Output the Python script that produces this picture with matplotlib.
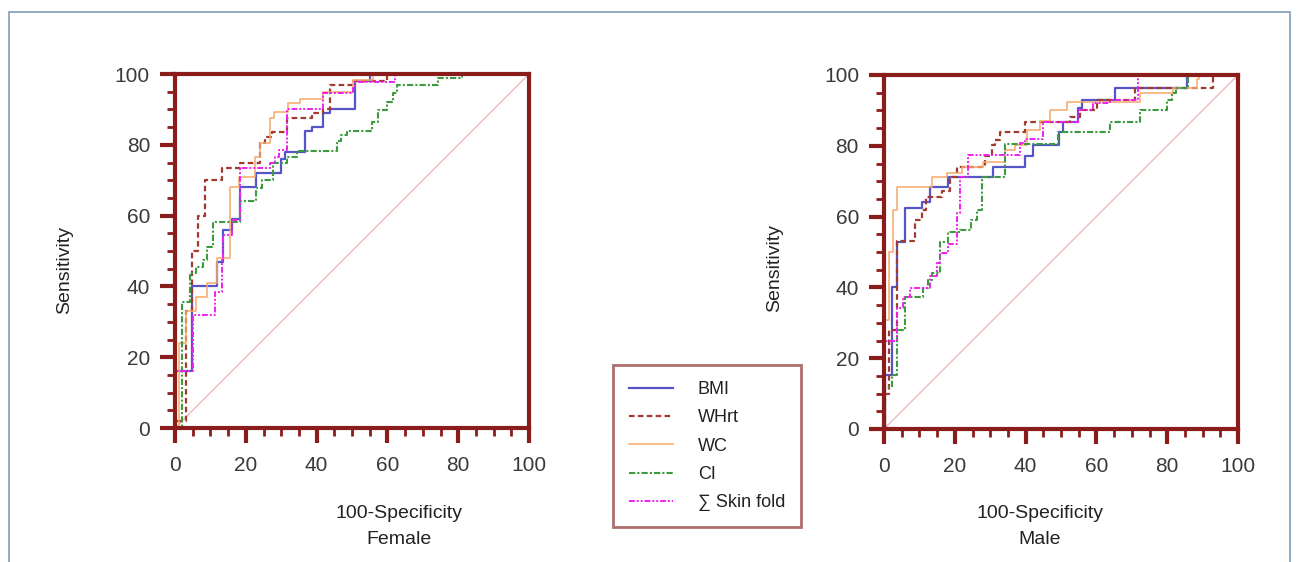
import matplotlib
matplotlib.use("Agg")
import matplotlib.pyplot as plt
from matplotlib.patches import Rectangle
from matplotlib.lines import Line2D
from matplotlib.ticker import MultipleLocator

# ---------------- data (100-Specificity, Sensitivity) ----------------
series_names = ["BMI", "WHrt", "WC", "CI", "\u2211 Skin fold"]

# Female
f_bmi_x = [0, 0, 4.7, 11.8, 13.5, 16, 18.4, 23, 30, 31, 36.7, 38.6, 41.9, 43.8, 50.8, 55, 100]
f_bmi_y = [0, 16, 40, 47, 56, 59, 68, 72, 76, 78, 84, 85, 89, 90, 98, 100, 100]
f_whr_x = [0, 0, 3, 4.7, 6.6, 8.5, 13.2, 18.4, 23.9, 25.4, 27.3, 31.5, 38.6, 41.9, 43.8, 50, 60, 100]
f_whr_y = [0, 2, 33, 50, 60, 70, 73.5, 75, 80.5, 82.3, 83.7, 87.5, 89, 90, 97, 98, 100, 100]
f_wc_x = [0, 1, 3, 6, 9, 12, 15.5, 18, 22.6, 24, 26.8, 28, 32, 35.3, 41.9, 50.4, 56, 100]
f_wc_y = [0, 24, 33, 37, 41, 48, 68, 71, 76.6, 80.4, 87.5, 89.4, 91.7, 93, 95, 98.3, 100, 100]
f_ci_x = [0, 1.9, 4.2, 6, 8, 8.9, 10.8, 18.4, 23, 24.5, 27.8, 31.5, 34.4, 45.7, 47, 48.5, 55.6,
          57.4, 59.8, 61.7, 62.6, 74.4, 81, 100]
f_ci_y = [0, 35.7, 43.7, 45.6, 47.5, 51, 58.3, 64, 67.7, 70, 74.8, 76.6, 78.3, 81, 82.8, 84, 86.5,
          89.8, 92.2, 94.5, 97, 98.8, 100, 100]
f_sf_x = [0, 0, 5.2, 11.3, 13.2, 13.7, 16, 18.4, 26.8, 28.2, 29.5, 31.5, 41.9, 50.4, 50.8, 62.1, 100]
f_sf_y = [0, 16, 32, 38.5, 47.5, 54.5, 58.8, 73.4, 74.8, 76.6, 78.5, 90, 94.5, 96, 97.8, 100, 100]

# Male
m_bmi_x = [0, 0.3, 2.2, 3.6, 5.9, 10.6, 13, 18.2, 30.9, 39.8, 42.2, 49.3, 50.7, 54.9, 55.8, 65.3, 85.5, 100]
m_bmi_y = [0, 15.3, 40.2, 52.9, 62.3, 64.2, 68.4, 71.3, 74.1, 77, 80.2, 84, 86.8, 90.6, 92.9, 96.2, 100, 100]
m_whr_x = [0, 0.3, 1.5, 3.6, 8.8, 10.6, 12, 16.3, 18.6, 20.5, 28.5, 30.4, 31.4, 32.8, 39.8, 52.5,
           55.5, 60.1, 70.9, 93, 100]
m_whr_y = [0, 10, 28, 53, 59, 62, 65.6, 67.1, 71.3, 74.1, 77, 80.2, 81.6, 84, 86.8, 88,
           90.1, 92.9, 96.2, 100, 100]
m_wc_x = [0, 0.3, 1.5, 2.5, 3.8, 13.5, 17.7, 22, 28, 34.2, 37, 40.3, 44, 46.9, 51.6, 72.3, 81.7, 88.3, 89, 100]
m_wc_y = [0, 30.8, 50, 62, 68.4, 71.3, 72.2, 74.1, 75.4, 78.8, 80.2, 84.5, 87, 90.1, 92.5, 94.8, 96.2, 98.8, 100, 100]
m_ci_x = [0, 0.3, 2.2, 3.6, 5.9, 11.1, 12.5, 13.5, 15.8, 18.2, 21.5, 24.5, 26.2, 27.6, 34.2, 49.2,
          63.8, 72.3, 79.9, 81.3, 82.5, 86, 100]
m_ci_y = [0, 12, 15.3, 28, 37.4, 39.7, 42, 44, 52.9, 55.7, 56.2, 59, 62, 71.3, 80.5, 84,
          86.8, 90.1, 92.9, 94.8, 96.2, 100, 100]
m_sf_x = [0, 0.3, 3.6, 5.5, 7.3, 13, 14.9, 15.8, 18.2, 20.5, 21.5, 23.8, 38.4, 39.8, 45, 54.9, 59.1, 63.8, 71.8, 100]
m_sf_y = [0, 25, 34.1, 37.4, 39.7, 43.2, 46.8, 49.6, 52.4, 60.9, 71.3, 77.4, 80.8, 82, 86.8, 90.1, 92, 92.9, 100, 100]

ticks = [0, 20, 40, 60, 80, 100]
panel_titles = ["Female", "Male"]

# ---------------- styles ----------------
AXC = "#8B1C1C"
TXT = "#3a3a3a"
styles = [
    dict(color="#5555C8", lw=1.6, ls="-"),
    dict(color="#A33A30", lw=1.6, ls=(0, (2.5, 1.5))),
    dict(color="#F7A868", lw=1.1, ls="-"),
    dict(color="#3E9A3E", lw=1.5, ls=(0, (3, 1, 1, 1))),
    dict(color="#F020F0", lw=1.4, ls=(0, (3, 1, 1, 1, 1, 1))),
]

W, H = 1299, 562
fig = plt.figure(figsize=(W / 100, H / 100), dpi=100)
plt.rcParams['font.family'] = ['Liberation Sans', 'DejaVu Sans']

# outer frame
fig.patches.append(Rectangle((9 / W, -0.05), (1290 - 9) / W, 1.05 - 12 / H,
                             transform=fig.transFigure, fill=False,
                             edgecolor="#7F9DB9", lw=1.2))

ax_l = fig.add_axes([175 / W, 1 - 428 / H, 354 / W, 354 / H])
ax_r = fig.add_axes([884 / W, 1 - 429 / H, 354 / W, 354 / H])

data = [
    [(f_bmi_x, f_bmi_y), (f_whr_x, f_whr_y), (f_wc_x, f_wc_y), (f_ci_x, f_ci_y), (f_sf_x, f_sf_y)],
    [(m_bmi_x, m_bmi_y), (m_whr_x, m_whr_y), (m_wc_x, m_wc_y), (m_ci_x, m_ci_y), (m_sf_x, m_sf_y)],
]

for ax, curves in zip([ax_l, ax_r], data):
    ax.plot([0, 100], [0, 100], color="#EDB8B8", lw=1.0, zorder=1)
    for (xs, ys), st in zip(curves, styles):
        ax.plot(xs, ys, drawstyle="steps-post", zorder=2, clip_on=False, **st)
    ax.set_xlim(0, 100)
    ax.set_ylim(0, 100)
    ax.set_xticks(ticks)
    ax.set_yticks(ticks)
    ax.xaxis.set_minor_locator(MultipleLocator(5))
    ax.yaxis.set_minor_locator(MultipleLocator(5))
    for s in ax.spines.values():
        s.set_color(AXC)
        s.set_linewidth(3)
        s.set_zorder(3)
    ax.tick_params(which="major", direction="out", length=11, width=3, color=AXC,
                   labelsize=15, labelcolor=TXT)
    ax.tick_params(axis="y", which="major", pad=7)
    ax.tick_params(axis="x", which="major", pad=9)
    ax.tick_params(which="minor", direction="out", length=6, width=2, color=AXC)

# axis labels as figure text
lab_fs = 14
fig.text(65 / W, 1 - 270 / H, "Sensitivity", rotation=90, ha="center", va="center",
         fontsize=lab_fs, color="#222222")
fig.text(775 / W, 1 - 268 / H, "Sensitivity", rotation=90, ha="center", va="center",
         fontsize=lab_fs, color="#222222")
fig.text(399 / W, 1 - 513 / H, "100-Specificity", ha="center", va="center",
         fontsize=lab_fs, color="#222222")
fig.text(399 / W, 1 - 540 / H, panel_titles[0], ha="center", va="center",
         fontsize=lab_fs, color="#222222")
fig.text(1040 / W, 1 - 513 / H, "100-Specificity", ha="center", va="center",
         fontsize=lab_fs, color="#222222")
fig.text(1040 / W, 1 - 540 / H, panel_titles[1], ha="center", va="center",
         fontsize=lab_fs, color="#222222")

# legend
handles = [Line2D([], [], **st) for st in styles]
leg = fig.legend(handles, series_names, loc="upper left",
                 bbox_to_anchor=(613 / W, 1 - 365 / H), frameon=True, fancybox=False,
                 fontsize=13, handlelength=2.4, handletextpad=1.4, labelspacing=0.62,
                 borderpad=0.9, borderaxespad=0)
leg.get_frame().set_edgecolor("#9B4A4A")
leg.get_frame().set_linewidth(2)
for t in leg.get_texts():
    t.set_color("#222222")

fig.savefig("out.png", dpi=100)
